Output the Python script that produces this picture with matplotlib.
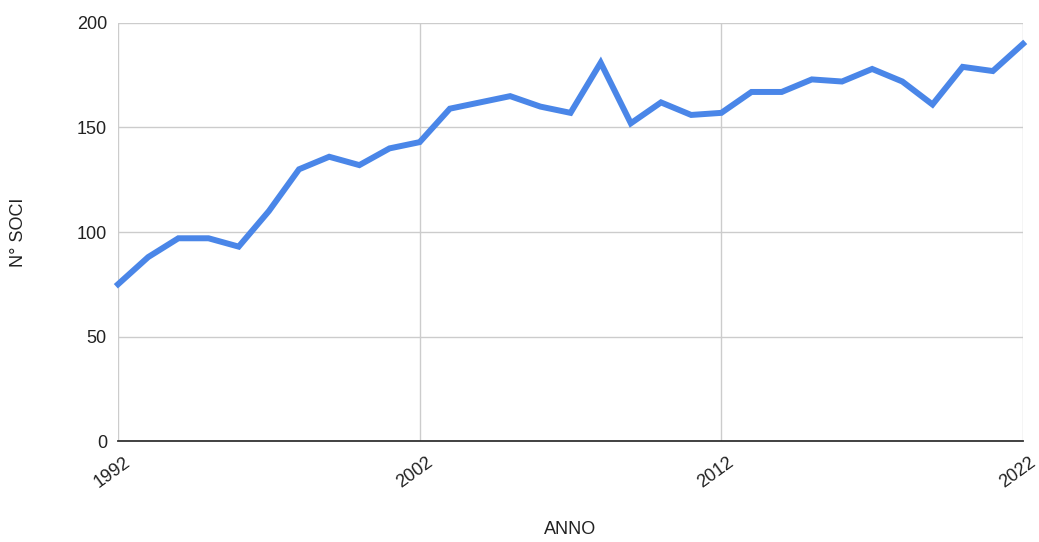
import matplotlib.pyplot as plt
import matplotlib.transforms as mtransforms
import numpy as np

plt.rcParams['font.family'] = ['Liberation Sans', 'DejaVu Sans']

anni = np.arange(1992, 2023)
soci = [75, 88, 97, 97, 93, 110, 130, 136, 132, 140, 143,
        159, 162, 165, 160, 157, 181, 152, 162, 156, 157,
        167, 167, 173, 172, 178, 172, 161, 179, 177, 190]
xticks = [1992, 2002, 2012, 2022]
yticks = [0, 50, 100, 150, 200]

fig = plt.figure(figsize=(10.39, 5.42), dpi=100)
ax = fig.add_axes([0.1136, 0.1863, 0.8710, 0.7713])
ax.plot(anni, soci, color='#4a86e8', lw=4.3, solid_joinstyle='miter', clip_on=False, zorder=3)

ax.set_xlim(1992, 2022)
ax.set_ylim(0, 200)
ax.set_xticks(xticks)
ax.set_yticks(yticks)
ax.grid(True, color='#cccccc', lw=1)
for s in ['top', 'right', 'left']:
    ax.spines[s].set_visible(False)
ax.spines['bottom'].set_color('#333333')
ax.spines['bottom'].set_linewidth(1.3)
ax.tick_params(length=0, labelsize=13, colors='#222222', pad=8)
ax.tick_params(axis='x', pad=9)
off = mtransforms.ScaledTranslation(6 / 100, 0, fig.dpi_scale_trans)
for lab in ax.get_xticklabels():
    lab.set_rotation(36)
    lab.set_ha('right')
    lab.set_rotation_mode('anchor')
    lab.set_transform(lab.get_transform() + off)
ax.set_xlabel('ANNO', fontsize=13, color='#222222', labelpad=22)
ax.set_ylabel('N° SOCI', fontsize=13, color='#222222', labelpad=36)

plt.savefig('out.png', dpi=100)
